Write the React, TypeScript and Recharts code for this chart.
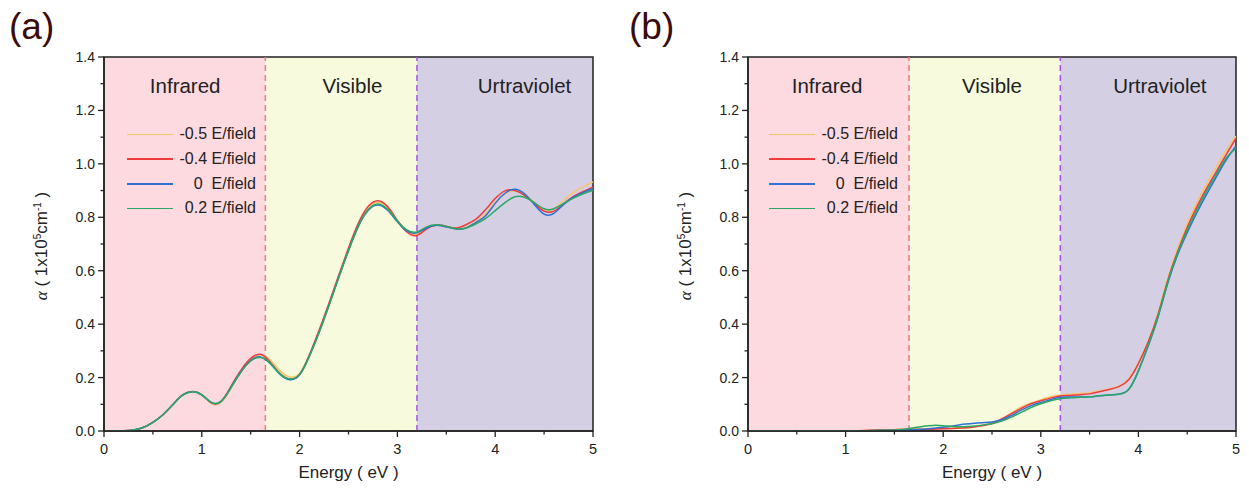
import React from 'react';
import { LineChart, Line, XAxis, YAxis, ReferenceArea, ReferenceLine } from 'recharts';

const ENERGY = [
  0, 0.1, 0.2, 0.3, 0.4, 0.5, 0.6, 0.7, 0.8, 0.9,
  1.0, 1.1, 1.2, 1.3, 1.4, 1.5, 1.6, 1.7, 1.8, 1.9,
  2.0, 2.1, 2.2, 2.3, 2.4, 2.5, 2.6, 2.7, 2.8, 2.9,
  3.0, 3.1, 3.2, 3.3, 3.4, 3.5, 3.6, 3.7, 3.8, 3.9,
  4.0, 4.1, 4.2, 4.3, 4.4, 4.5, 4.6, 4.7, 4.8, 4.9, 5.0,
];

// panel (a)
const A_NEG05 = [
  0, 0, 0.001, 0.004, 0.013, 0.032, 0.06, 0.097, 0.133, 0.147,
  0.134, 0.102, 0.108, 0.16, 0.222, 0.268, 0.285, 0.266, 0.226, 0.202,
  0.216, 0.283, 0.372, 0.472, 0.578, 0.68, 0.772, 0.832, 0.856, 0.835,
  0.787, 0.748, 0.737, 0.758, 0.77, 0.765, 0.757, 0.762, 0.782, 0.812,
  0.856, 0.888, 0.9, 0.887, 0.856, 0.827, 0.832, 0.864, 0.893, 0.914, 0.932,
];
const A_NEG04 = [
  0, 0, 0.001, 0.004, 0.013, 0.032, 0.06, 0.097, 0.134, 0.148,
  0.136, 0.105, 0.112, 0.168, 0.228, 0.272, 0.287, 0.258, 0.215, 0.194,
  0.212, 0.285, 0.378, 0.478, 0.583, 0.685, 0.777, 0.84, 0.862, 0.84,
  0.788, 0.744, 0.732, 0.757, 0.771, 0.767, 0.76, 0.772, 0.792, 0.828,
  0.87, 0.899, 0.9, 0.882, 0.852, 0.823, 0.823, 0.85, 0.878, 0.897, 0.913,
];
const A_ZERO = [
  0, 0, 0.001, 0.004, 0.013, 0.032, 0.06, 0.097, 0.133, 0.147,
  0.135, 0.106, 0.112, 0.165, 0.222, 0.264, 0.277, 0.252, 0.212, 0.192,
  0.21, 0.28, 0.37, 0.47, 0.575, 0.675, 0.765, 0.825, 0.846, 0.826,
  0.783, 0.748, 0.742, 0.76, 0.77, 0.764, 0.756, 0.76, 0.78, 0.805,
  0.852, 0.89, 0.905, 0.888, 0.848, 0.812, 0.815, 0.848, 0.875, 0.893, 0.907,
];
const A_POS02 = [
  0, 0, 0.001, 0.004, 0.013, 0.032, 0.06, 0.097, 0.133, 0.147,
  0.135, 0.107, 0.111, 0.163, 0.22, 0.262, 0.275, 0.254, 0.214, 0.195,
  0.212, 0.28, 0.37, 0.47, 0.575, 0.676, 0.767, 0.828, 0.85, 0.83,
  0.786, 0.752, 0.745, 0.764, 0.772, 0.766, 0.757, 0.76, 0.775, 0.795,
  0.825, 0.855, 0.877, 0.875, 0.855, 0.832, 0.832, 0.852, 0.872, 0.888, 0.9,
];

// panel (b)
const B_NEG05 = [
  0, 0, 0, 0, 0, 0, 0, 0, 0, 0,
  0, 0.001, 0.002, 0.003, 0.004, 0.005, 0.007, 0.008, 0.008, 0.008,
  0.009, 0.01, 0.012, 0.016, 0.022, 0.03, 0.045, 0.068, 0.09, 0.105,
  0.117, 0.128, 0.135, 0.138, 0.14, 0.143, 0.15, 0.157, 0.168, 0.195,
  0.255, 0.335, 0.44, 0.57, 0.68, 0.775, 0.855, 0.927, 0.99, 1.05, 1.104,
];
const B_NEG04 = [
  0, 0, 0, 0, 0, 0, 0, 0, 0, 0,
  0, 0.001, 0.002, 0.003, 0.004, 0.005, 0.006, 0.006, 0.006, 0.007,
  0.008, 0.009, 0.011, 0.014, 0.02, 0.028, 0.045, 0.065, 0.085, 0.102,
  0.113, 0.123, 0.131, 0.133, 0.136, 0.139, 0.147, 0.155, 0.166, 0.192,
  0.252, 0.333, 0.435, 0.563, 0.67, 0.762, 0.84, 0.909, 0.972, 1.035, 1.096,
];
const B_ZERO = [
  0, 0, 0, 0, 0, 0, 0, 0, 0, 0,
  0, 0, 0.001, 0.002, 0.002, 0.003, 0.004, 0.005, 0.007, 0.01,
  0.014, 0.019, 0.025, 0.028, 0.031, 0.034, 0.042, 0.058, 0.078, 0.095,
  0.107, 0.117, 0.126, 0.127, 0.127, 0.128, 0.132, 0.135, 0.138, 0.155,
  0.225, 0.318, 0.425, 0.552, 0.658, 0.742, 0.818, 0.887, 0.952, 1.015, 1.067,
];
const B_POS02 = [
  0, 0, 0, 0, 0, 0, 0, 0, 0, 0,
  0, 0, 0.001, 0.002, 0.003, 0.004, 0.007, 0.012, 0.018, 0.021,
  0.02, 0.017, 0.016, 0.018, 0.022, 0.027, 0.037, 0.052, 0.07, 0.088,
  0.102, 0.113, 0.121, 0.124, 0.126, 0.128, 0.132, 0.135, 0.138, 0.155,
  0.225, 0.32, 0.428, 0.556, 0.664, 0.752, 0.828, 0.899, 0.962, 1.022, 1.058,
];

const SERIES_NAMES = ['-0.5 E/field', '-0.4 E/field', '0  E/field', '0.2 E/field'];
const SERIES_KEYS = ['neg05', 'neg04', 'zero', 'pos02'];
const SERIES_COLORS = ['#f6c56c', '#ee3b3b', '#2f6fd8', '#2aa865'];

const X_TICKS = [0, 0.5, 1, 1.5, 2, 2.5, 3, 3.5, 4, 4.5, 5];
const Y_TICKS = [0, 0.1, 0.2, 0.3, 0.4, 0.5, 0.6, 0.7, 0.8, 0.9, 1.0, 1.1, 1.2, 1.3, 1.4];

const IR_EDGE = 1.65;
const UV_EDGE = 3.2;

const FONT = '"Liberation Sans", Arial, sans-serif';
const INK = '#222';

const buildRows = (cols: number[][]) =>
  ENERGY.map((e, i) => ({
    e,
    neg05: cols[0][i],
    neg04: cols[1][i],
    zero: cols[2][i],
    pos02: cols[3][i],
  }));

const rowsA = buildRows([A_NEG05, A_NEG04, A_ZERO, A_POS02]);
const rowsB = buildRows([B_NEG05, B_NEG04, B_ZERO, B_POS02]);

const XTick = (props: any) => {
  const { x, y, payload } = props;
  const major = Number.isInteger(payload.value);
  return (
    <g>
      <line x1={x} x2={x} y1={y} y2={y + (major ? 6 : 3.5)} stroke={INK} strokeWidth={1.3} />
      {major && (
        <text x={x} y={y + 23} textAnchor="middle" fontSize={14.5} fill={INK} fontFamily={FONT}>
          {payload.value}
        </text>
      )}
    </g>
  );
};

const YTick = (props: any) => {
  const { x, y, payload, index } = props;
  const major = index % 2 === 0;
  return (
    <g>
      <line x1={x} x2={x - (major ? 6 : 3.5)} y1={y} y2={y} stroke={INK} strokeWidth={1.3} />
      {major && (
        <text x={x - 9} y={y + 5} textAnchor="end" fontSize={14} fill={INK} fontFamily={FONT}>
          {payload.value.toFixed(1)}
        </text>
      )}
    </g>
  );
};

type PanelProps = {
  rows: any[];
  left: number;
  width: number;
  marginLeft: number;
  marginRight: number;
  tag: string;
  regionX: number[];
  legendLeft: number;
};

const Panel = ({ rows, left, width, marginLeft, marginRight, tag, regionX, legendLeft }: PanelProps) => {
  const plotLeft = left + marginLeft + 60;
  const plotRight = left + width - marginRight;
  const plotCenter = (plotLeft + plotRight) / 2;
  const regionNames = ['Infrared', 'Visible', 'Urtraviolet'];
  return (
    <>
      <div style={{ position: 'absolute', left, top: 0 }}>
        <LineChart
          width={width}
          height={493}
          data={rows}
          margin={{ top: 57, right: marginRight, bottom: 22, left: marginLeft }}
        >
          <ReferenceArea x1={0} x2={IR_EDGE} y1={0} y2={1.4} fill="#fddadf" fillOpacity={1} stroke="none" />
          <ReferenceArea x1={IR_EDGE} x2={UV_EDGE} y1={0} y2={1.4} fill="#f7fadc" fillOpacity={1} stroke="none" />
          <ReferenceArea x1={UV_EDGE} x2={5} y1={0} y2={1.4} fill="#d5cfe4" fillOpacity={1} stroke="none" />
          <ReferenceLine x={IR_EDGE} stroke="#f07b7b" strokeWidth={1.5} strokeDasharray="6 4" />
          <ReferenceLine x={UV_EDGE} stroke="#a552ea" strokeWidth={1.5} strokeDasharray="6 4" />
          <XAxis
            dataKey="e"
            type="number"
            domain={[0, 5]}
            ticks={X_TICKS}
            interval={0}
            tick={<XTick />}
            tickLine={false}
            tickSize={0}
            tickMargin={0}
            height={40}
            axisLine={{ stroke: INK, strokeWidth: 1.5 }}
            allowDataOverflow
          />
          <YAxis
            type="number"
            domain={[0, 1.4]}
            ticks={Y_TICKS}
            interval={0}
            tick={<YTick />}
            tickLine={false}
            tickSize={0}
            tickMargin={0}
            width={60}
            axisLine={{ stroke: INK, strokeWidth: 1.5 }}
            allowDataOverflow
          />
          {SERIES_KEYS.map((k, i) => (
            <Line
              key={k}
              type="natural"
              dataKey={k}
              stroke={SERIES_COLORS[i]}
              strokeWidth={1.5}
              dot={false}
              isAnimationActive={false}
            />
          ))}
          <ReferenceArea x1={0} x2={5} y1={0} y2={1.4} fill="none" stroke={INK} strokeWidth={1.5} />
        </LineChart>
      </div>

      <div style={{ position: 'absolute', left: left + 9, top: 6, fontSize: 37, lineHeight: 1.15, fontFamily: FONT, color: '#3a0b0b' }}>
        {tag}
      </div>

      {regionNames.map((name, i) => (
        <div
          key={name}
          style={{
            position: 'absolute',
            left: plotLeft + regionX[i] * ((plotRight - plotLeft) / 5),
            top: 86,
            transform: 'translate(-50%, -50%)',
            fontSize: 20.5,
            fontFamily: FONT,
            color: INK,
            whiteSpace: 'nowrap',
          }}
        >
          {name}
        </div>
      ))}

      <div style={{ position: 'absolute', left: legendLeft, top: 122, fontFamily: FONT, fontSize: 16, color: INK }}>
        {SERIES_NAMES.map((name, i) => (
          <div key={name} style={{ display: 'flex', alignItems: 'center', height: 24.7 }}>
            <div style={{ width: 46, height: 1.6, background: SERIES_COLORS[i] }} />
            <div style={{ width: 83, textAlign: 'right', whiteSpace: 'pre' }}>{name}</div>
          </div>
        ))}
      </div>

      <div
        style={{
          position: 'absolute',
          left: plotLeft - 62,
          top: 246,
          transform: 'translate(-50%, -50%) rotate(-90deg)',
          fontFamily: FONT,
          fontSize: 17,
          color: INK,
          whiteSpace: 'nowrap',
        }}
      >
        <span style={{ fontFamily: '"Liberation Serif", serif', fontStyle: 'italic' }}>α</span>
        {' ( 1x10'}
        <sup style={{ fontSize: 10 }}>5</sup>
        {'cm'}
        <sup style={{ fontSize: 10 }}>-1</sup>
        {' )'}
      </div>

      <div
        style={{
          position: 'absolute',
          left: plotCenter,
          top: 473,
          transform: 'translate(-50%, -50%)',
          fontFamily: FONT,
          fontSize: 17,
          color: INK,
          whiteSpace: 'pre',
        }}
      >
        {'Energy ( eV )'}
      </div>
    </>
  );
};

export default function App() {
  return (
    <div style={{ position: 'absolute', left: 0, top: 0, width: 1249, height: 493, background: '#fff', overflow: 'hidden' }}>
      <Panel
        rows={rowsA}
        left={0}
        width={620}
        marginLeft={44}
        marginRight={27}
        tag="(a)"
        regionX={[0.83, 2.54, 4.3]}
        legendLeft={127}
      />
      <Panel
        rows={rowsB}
        left={620}
        width={629}
        marginLeft={68}
        marginRight={13}
        tag="(b)"
        regionX={[0.81, 2.5, 4.22]}
        legendLeft={769}
      />
    </div>
  );
}
